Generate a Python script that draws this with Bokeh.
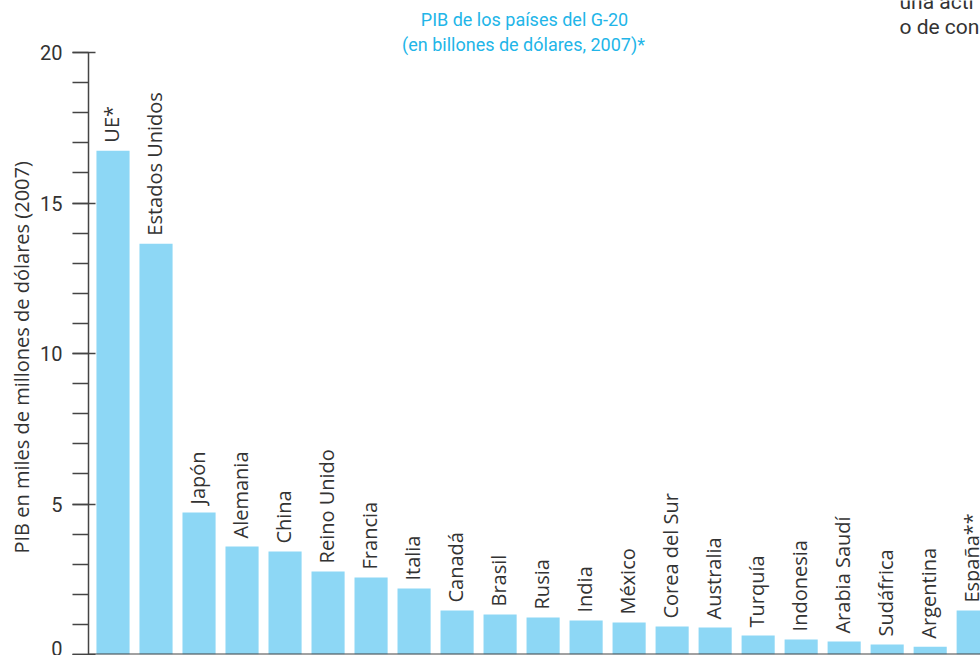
from bokeh.plotting import figure
from bokeh.models import Range1d, SingleIntervalTicker, Label, Span, ColumnDataSource, Title
from bokeh.core.properties import value
from bokeh.embed import file_html
from bokeh.resources import INLINE
import math

countries = ["UE*", "Estados Unidos", "Japón", "Alemania", "China", "Reino Unido",
             "Francia", "Italia", "Canadá", "Brasil", "Rusia", "India", "México",
             "Corea del Sur", "Australia", "Turquía", "Indonesia", "Arabia Saudí",
             "Sudáfrica", "Argentina", "España**"]
gdp = [16.74, 13.65, 4.72, 3.59, 3.42, 2.76, 2.56, 2.19, 1.46, 1.33, 1.23, 1.13,
       1.06, 0.93, 0.90, 0.63, 0.50, 0.43, 0.33, 0.26, 1.46]
title_lines = ["PIB de los países del G-20", "(en billones de dólares, 2007)*"]
y_label = "PIB en miles de millones de dólares (2007)"
side_text = ["una acti", "o de con"]

idx = list(range(len(countries)))
src = ColumnDataSource(dict(x=idx, top=gdp, name=countries))

p = figure(width=980, height=655, output_backend="svg", toolbar_location=None,
           x_range=Range1d(-0.57, 20.17), y_range=Range1d(0, 21.73),
           min_border_left=88, min_border_right=0, min_border_top=0, min_border_bottom=1)
p.outline_line_color = None
p.grid.visible = False
p.xaxis.visible = False
p.background_fill_color = "white"
p.border_fill_color = "white"

p.vbar(x="x", top="top", width=0.77, source=src, fill_color="#8dd7f5", line_color=None)

p.text(x="x", y="top", text="name", source=src, angle=math.pi / 2,
       x_offset=-2, y_offset=-8,
       text_align="left", text_baseline="middle", text_font=value("Open Sans"),
       text_font_size="20px", text_color="#333333")

ya = p.yaxis[0]
ya.bounds = (0, 20)
ya.ticker = SingleIntervalTicker(interval=5, num_minor_ticks=5)
ya.axis_line_color = "#444444"
ya.axis_line_width = 1.5
ya.major_tick_line_color = "#444444"
ya.major_tick_line_width = 1.5
ya.minor_tick_line_color = "#444444"
ya.minor_tick_line_width = 1.5
ya.major_tick_out = 16
ya.major_tick_in = 7
ya.minor_tick_out = 16
ya.minor_tick_in = 0
ya.major_label_standoff = 10
ya.major_label_text_font = "Roboto"
ya.major_label_text_font_size = "20px"
ya.major_label_text_color = "#333333"

# axis title as a left-side Title so it can sit where the reference puts it
p.add_layout(Title(text=y_label, align="left", offset=101, standoff=6,
                   text_font="Open Sans", text_font_size="20px", text_font_style="normal",
                   text_color="#333333"), "left")

p.add_layout(Span(location=0, dimension="width", line_color="#444444", line_width=2))

p.add_layout(Label(x=436, y=635, x_units="screen", y_units="screen", text=title_lines[0],
                   text_align="center", text_baseline="alphabetic",
                   text_font="Roboto", text_font_size="18px", text_color="#22b5e8"))
p.add_layout(Label(x=435, y=610, x_units="screen", y_units="screen", text=title_lines[1],
                   text_align="center", text_baseline="alphabetic",
                   text_font="Roboto", text_font_size="18px", text_color="#22b5e8"))
p.add_layout(Label(x=811, y=653, x_units="screen", y_units="screen", text=side_text[0],
                   text_align="left", text_baseline="alphabetic",
                   text_font="Roboto", text_font_size="21px", text_color="#333333"))
p.add_layout(Label(x=811, y=628, x_units="screen", y_units="screen", text=side_text[1],
                   text_align="left", text_baseline="alphabetic",
                   text_font="Roboto", text_font_size="21px", text_color="#333333"))

open("out.html", "w").write(file_html(p, INLINE))
